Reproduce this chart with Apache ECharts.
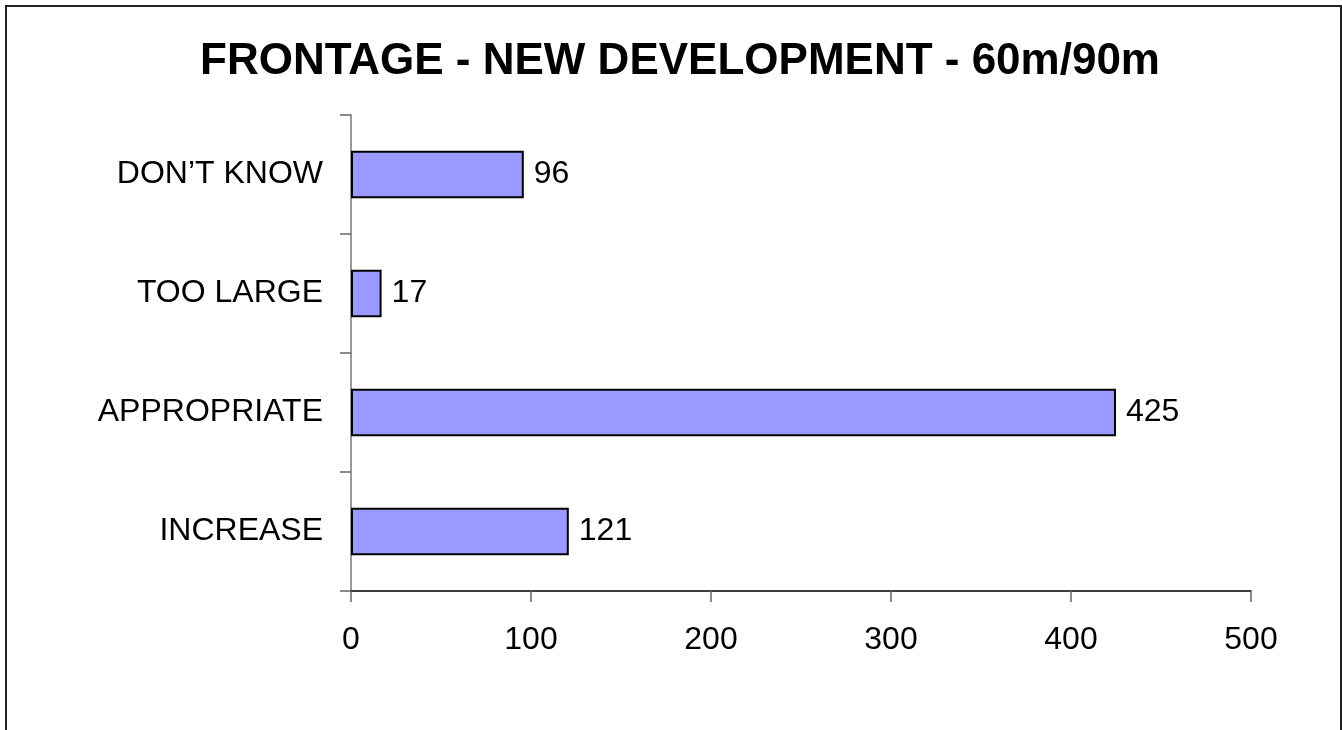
<!DOCTYPE html>
<html>
<head>
<meta charset="utf-8">
<title>Frontage - New Development</title>
<script src="https://cdn.jsdelivr.net/npm/echarts@6/dist/echarts.min.js"></script>
<style>
  html, body { margin: 0; padding: 0; background: #fff; }
  #chart { width: 1342px; height: 730px; }
</style>
</head>
<body>
<div id="chart"></div>
<script>
// data (bottom to top, as ECharts category axis draws it)
const categories = ['INCREASE', 'APPROPRIATE', 'TOO LARGE', 'DON\u2019T KNOW']
const responses = [121, 425, 17, 96]
const xTicks = { min: 0, max: 500, interval: 100 }

const FONT = "'Liberation Sans', Arial, sans-serif"

const chart = echarts.init(document.getElementById('chart'))

const option = {
  animation: false,
  backgroundColor: '#fff',
  title: {
    text: 'FRONTAGE - NEW DEVELOPMENT - 60m/90m',
    left: 675,
    textAlign: 'center',
    top: 35,
    textStyle: { fontFamily: FONT, fontSize: 44, fontWeight: 'bold', color: '#000' }
  },
  // frame round the chart (bottom edge runs off the picture)
  graphic: [{
    type: 'rect',
    shape: { x: 6, y: 6, width: 1335, height: 760 },
    style: { fill: 'none', stroke: '#222', lineWidth: 2 },
    silent: true
  }],
  grid: { left: 351, right: 91, top: 115, bottom: 139, containLabel: false },
  xAxis: {
    type: 'value',
    min: xTicks.min,
    max: xTicks.max,
    interval: xTicks.interval,
    splitLine: { show: false },
    axisLine: { show: true, lineStyle: { color: '#000', width: 1.5 } },
    axisTick: { show: true, length: 11, lineStyle: { color: '#666', width: 1.5 } },
    axisLabel: { margin: 33, fontFamily: FONT, fontSize: 32, color: '#000' }
  },
  yAxis: {
    type: 'category',
    data: categories,
    axisLine: { show: true, lineStyle: { color: '#777', width: 1.5 } },
    axisTick: { show: true, length: 11, lineStyle: { color: '#666', width: 1.5 } },
    axisLabel: { margin: 28, fontFamily: FONT, fontSize: 32, color: '#000' }
  },
  series: [{
    type: 'bar',
    data: responses,
    barCategoryGap: '60%',
    itemStyle: { color: '#9999FF', borderColor: '#000', borderWidth: 2 },
    label: {
      show: true,
      position: 'right',
      distance: 10,
      fontFamily: FONT,
      fontSize: 32,
      color: '#000'
    }
  }]
}

chart.setOption(option)
</script>
</body>
</html>
